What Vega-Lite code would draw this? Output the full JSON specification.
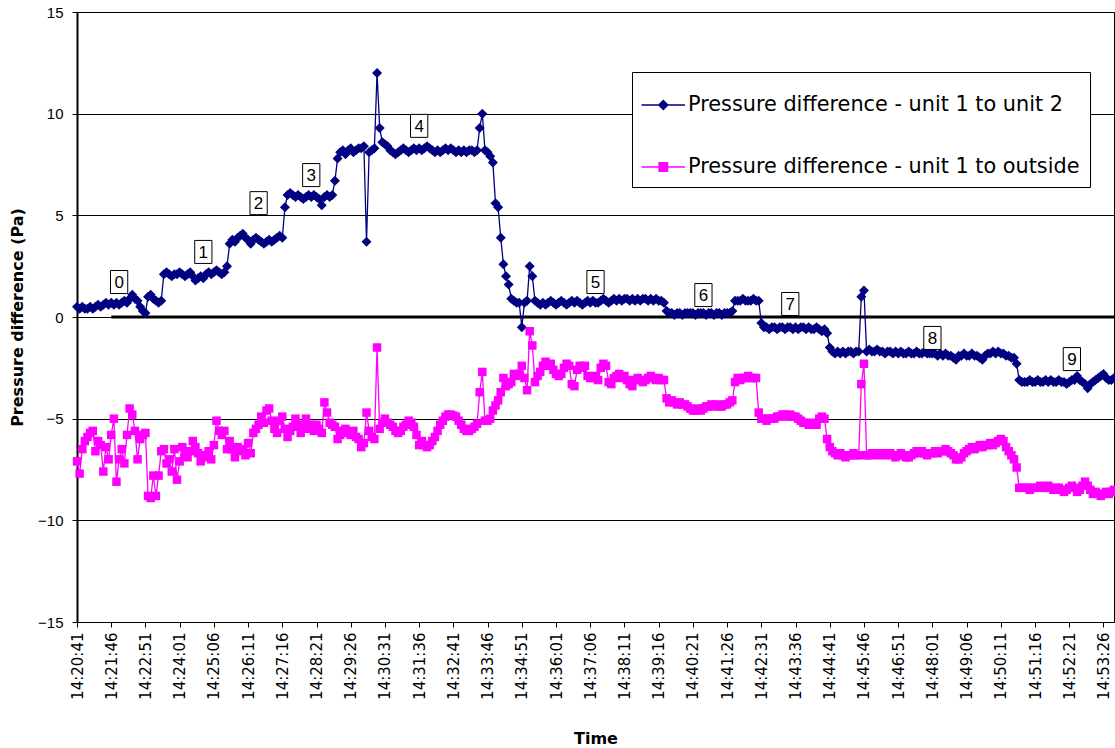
{
"$schema": "https://vega.github.io/schema/vega-lite/v6.json",
"width": 1037, "height": 610,
"autosize": {"type": "none"},
"padding": {"left": 77, "top": 12, "right": 1, "bottom": 126},
"background": "white",
"config": {"view": {"stroke": "#000", "strokeWidth": 1}, "font": "Liberation Sans"},
"datasets": {
"zero": [{"t": "14:21:46", "v": 0}, {"t": "14:53:46", "v": 0}],
"ann": [
{"t":"14:22:01","v":1.72,"lab":"0"},{"t":"14:24:46","v":3.2,"lab":"1"},{"t":"14:26:31","v":5.6,"lab":"2"},{"t":"14:28:11","v":6.98,"lab":"3"},{"t":"14:31:36","v":9.4,"lab":"4"},{"t":"14:37:16","v":1.72,"lab":"5"},{"t":"14:40:41","v":1.08,"lab":"6"},{"t":"14:43:26","v":0.64,"lab":"7"},{"t":"14:48:01","v":-1.03,"lab":"8"},{"t":"14:52:26","v":-2.07,"lab":"9"}],
"main": [
{"t":"14:20:41","a":0.5,"b":-7.1},{"t":"14:20:46","a":0.4,"b":-7.7},{"t":"14:20:51","a":0.5,"b":-6.5},{"t":"14:20:56","a":0.4,"b":-6.1},{"t":"14:21:01","a":0.4,"b":-5.9},{"t":"14:21:06","a":0.5,"b":-5.7},{"t":"14:21:11","a":0.4,"b":-5.6},{"t":"14:21:16","a":0.5,"b":-6.6},{"t":"14:21:21","a":0.6,"b":-6.1},{"t":"14:21:26","a":0.5,"b":-6.3},{"t":"14:21:31","a":0.6,"b":-7.6},{"t":"14:21:36","a":0.7,"b":-6.4},{"t":"14:21:41","a":0.6,"b":-7.0},
{"t":"14:21:46","a":0.7,"b":-5.8},{"t":"14:21:51","a":0.6,"b":-5.0},{"t":"14:21:56","a":0.7,"b":-8.1},{"t":"14:22:01","a":0.6,"b":-7.0},{"t":"14:22:06","a":0.7,"b":-6.5},{"t":"14:22:11","a":0.8,"b":-7.2},{"t":"14:22:16","a":0.7,"b":-5.8},{"t":"14:22:21","a":0.9,"b":-4.5},{"t":"14:22:26","a":1.1,"b":-4.8},{"t":"14:22:31","a":0.9,"b":-5.6},{"t":"14:22:36","a":0.8,"b":-7.0},{"t":"14:22:41","a":0.5,"b":-6.0},{"t":"14:22:46","a":0.3,"b":-5.8},
{"t":"14:22:51","a":0.2,"b":-5.7},{"t":"14:22:56","a":1.0,"b":-8.8},{"t":"14:23:01","a":1.1,"b":-8.9},{"t":"14:23:06","a":0.9,"b":-7.8},{"t":"14:23:11","a":0.8,"b":-8.8},{"t":"14:23:16","a":0.7,"b":-7.8},{"t":"14:23:21","a":0.8,"b":-6.6},{"t":"14:23:26","a":2.1,"b":-6.5},{"t":"14:23:31","a":2.2,"b":-7.2},{"t":"14:23:36","a":2.1,"b":-7.0},{"t":"14:23:41","a":2.0,"b":-7.6},{"t":"14:23:46","a":2.1,"b":-6.5},{"t":"14:23:51","a":2.1,"b":-8.0},
{"t":"14:24:01","a":2.2,"b":-7.1},{"t":"14:24:06","a":2.1,"b":-6.4},{"t":"14:24:11","a":2.0,"b":-6.8},{"t":"14:24:16","a":2.1,"b":-6.9},{"t":"14:24:21","a":2.2,"b":-6.6},{"t":"14:24:26","a":2.0,"b":-6.1},{"t":"14:24:31","a":1.8,"b":-6.4},{"t":"14:24:36","a":1.9,"b":-6.7},{"t":"14:24:41","a":2.0,"b":-7.1},{"t":"14:24:46","a":1.9,"b":-6.9},{"t":"14:24:51","a":2.1,"b":-6.8},{"t":"14:24:56","a":2.2,"b":-6.6},{"t":"14:25:01","a":2.1,"b":-7.0},
{"t":"14:25:06","a":2.2,"b":-6.3},{"t":"14:25:11","a":2.3,"b":-5.1},{"t":"14:25:16","a":2.2,"b":-5.6},{"t":"14:25:21","a":2.1,"b":-5.8},{"t":"14:25:26","a":2.2,"b":-5.6},{"t":"14:25:31","a":2.5,"b":-6.5},{"t":"14:25:36","a":3.6,"b":-6.1},{"t":"14:25:41","a":3.8,"b":-6.5},{"t":"14:25:46","a":3.7,"b":-6.9},{"t":"14:25:51","a":3.9,"b":-6.4},{"t":"14:25:56","a":4.0,"b":-6.5},{"t":"14:26:01","a":4.1,"b":-6.6},{"t":"14:26:06","a":3.9,"b":-6.8},
{"t":"14:26:11","a":3.8,"b":-6.2},{"t":"14:26:16","a":3.6,"b":-6.7},{"t":"14:26:21","a":3.8,"b":-5.7},{"t":"14:26:26","a":3.9,"b":-5.5},{"t":"14:26:31","a":3.8,"b":-5.3},{"t":"14:26:36","a":3.7,"b":-4.9},{"t":"14:26:41","a":3.6,"b":-5.2},{"t":"14:26:46","a":3.7,"b":-4.6},{"t":"14:26:51","a":3.8,"b":-4.5},{"t":"14:26:56","a":3.7,"b":-5.1},{"t":"14:27:01","a":3.8,"b":-5.5},{"t":"14:27:06","a":3.9,"b":-5.7},{"t":"14:27:11","a":4.0,"b":-5.1},
{"t":"14:27:16","a":3.9,"b":-4.9},{"t":"14:27:21","a":5.4,"b":-5.5},{"t":"14:27:26","a":6.0,"b":-5.9},{"t":"14:27:31","a":6.1,"b":-5.6},{"t":"14:27:36","a":6.0,"b":-5.4},{"t":"14:27:41","a":5.9,"b":-5.0},{"t":"14:27:46","a":6.0,"b":-5.3},{"t":"14:27:51","a":5.9,"b":-5.7},{"t":"14:27:56","a":5.8,"b":-5.4},{"t":"14:28:01","a":5.9,"b":-5.0},{"t":"14:28:06","a":6.0,"b":-5.5},{"t":"14:28:11","a":5.9,"b":-5.3},{"t":"14:28:16","a":6.0,"b":-5.6},
{"t":"14:28:21","a":5.9,"b":-5.3},{"t":"14:28:26","a":5.8,"b":-5.5},{"t":"14:28:31","a":5.5,"b":-5.7},{"t":"14:28:36","a":5.9,"b":-4.2},{"t":"14:28:41","a":6.0,"b":-4.7},{"t":"14:28:46","a":5.9,"b":-5.2},{"t":"14:28:51","a":6.0,"b":-5.3},{"t":"14:28:56","a":6.7,"b":-5.4},{"t":"14:29:01","a":7.8,"b":-6.0},{"t":"14:29:06","a":8.1,"b":-5.8},{"t":"14:29:11","a":8.2,"b":-5.6},{"t":"14:29:16","a":8.0,"b":-5.5},{"t":"14:29:21","a":8.2,"b":-5.7},
{"t":"14:29:26","a":8.3,"b":-5.8},{"t":"14:29:31","a":8.1,"b":-5.6},{"t":"14:29:36","a":8.2,"b":-5.9},{"t":"14:29:41","a":8.3,"b":-6.0},{"t":"14:29:46","a":8.3,"b":-6.4},{"t":"14:29:51","a":8.4,"b":-6.2},{"t":"14:29:56","a":3.7,"b":-4.7},{"t":"14:30:01","a":8.1,"b":-5.6},{"t":"14:30:06","a":8.2,"b":-5.9},{"t":"14:30:11","a":8.3,"b":-6.0},{"t":"14:30:16","a":12.0,"b":-1.5},{"t":"14:30:21","a":9.3,"b":-5.5},{"t":"14:30:26","a":8.6,"b":-5.2},
{"t":"14:30:31","a":8.5,"b":-5.0},{"t":"14:30:36","a":8.4,"b":-5.2},{"t":"14:30:41","a":8.2,"b":-5.3},{"t":"14:30:46","a":8.1,"b":-5.4},{"t":"14:30:51","a":8.0,"b":-5.6},{"t":"14:30:56","a":8.1,"b":-5.7},{"t":"14:31:01","a":8.2,"b":-5.6},{"t":"14:31:06","a":8.3,"b":-5.4},{"t":"14:31:11","a":8.2,"b":-5.3},{"t":"14:31:16","a":8.1,"b":-5.1},{"t":"14:31:21","a":8.2,"b":-5.2},{"t":"14:31:26","a":8.3,"b":-5.4},{"t":"14:31:31","a":8.2,"b":-5.8},
{"t":"14:31:36","a":8.3,"b":-6.3},{"t":"14:31:41","a":8.2,"b":-6.1},{"t":"14:31:46","a":8.3,"b":-6.3},{"t":"14:31:51","a":8.4,"b":-6.4},{"t":"14:31:56","a":8.3,"b":-6.3},{"t":"14:32:01","a":8.2,"b":-6.1},{"t":"14:32:06","a":8.1,"b":-5.9},{"t":"14:32:11","a":8.2,"b":-5.6},{"t":"14:32:16","a":8.1,"b":-5.3},{"t":"14:32:21","a":8.2,"b":-5.1},{"t":"14:32:26","a":8.3,"b":-4.9},{"t":"14:32:31","a":8.2,"b":-4.8},{"t":"14:32:36","a":8.3,"b":-4.8},
{"t":"14:32:41","a":8.2,"b":-4.85},{"t":"14:32:46","a":8.1,"b":-4.9},{"t":"14:32:51","a":8.2,"b":-5.1},{"t":"14:32:56","a":8.1,"b":-5.3},{"t":"14:33:01","a":8.2,"b":-5.5},{"t":"14:33:06","a":8.1,"b":-5.6},{"t":"14:33:11","a":8.2,"b":-5.6},{"t":"14:33:16","a":8.2,"b":-5.5},{"t":"14:33:21","a":8.1,"b":-5.4},{"t":"14:33:26","a":8.2,"b":-5.25},{"t":"14:33:31","a":9.3,"b":-3.7},{"t":"14:33:36","a":10.0,"b":-2.7},{"t":"14:33:41","a":8.2,"b":-5.1},
{"t":"14:33:46","a":8.1,"b":-5.1},{"t":"14:33:51","a":7.9,"b":-5.0},{"t":"14:33:56","a":7.6,"b":-4.6},{"t":"14:34:01","a":5.6,"b":-4.35},{"t":"14:34:06","a":5.4,"b":-4.1},{"t":"14:34:11","a":3.9,"b":-3.7},{"t":"14:34:16","a":2.6,"b":-3.0},{"t":"14:34:21","a":2.0,"b":-3.4},{"t":"14:34:26","a":1.6,"b":-3.3},{"t":"14:34:31","a":0.9,"b":-3.2},{"t":"14:34:36","a":0.8,"b":-2.8},{"t":"14:34:41","a":0.7,"b":-2.9},{"t":"14:34:46","a":0.7,"b":-2.8},
{"t":"14:34:51","a":-0.5,"b":-2.4},{"t":"14:34:56","a":0.7,"b":-3.0},{"t":"14:35:01","a":0.8,"b":-3.6},{"t":"14:35:06","a":2.5,"b":-0.7},{"t":"14:35:11","a":2.0,"b":-1.4},{"t":"14:35:16","a":0.8,"b":-3.2},{"t":"14:35:21","a":0.7,"b":-2.9},{"t":"14:35:26","a":0.6,"b":-2.7},{"t":"14:35:31","a":0.7,"b":-2.4},{"t":"14:35:36","a":0.6,"b":-2.2},{"t":"14:35:41","a":0.7,"b":-2.4},{"t":"14:35:46","a":0.8,"b":-2.3},{"t":"14:35:51","a":0.7,"b":-2.6},
{"t":"14:36:01","a":0.6,"b":-2.8},{"t":"14:36:06","a":0.7,"b":-2.9},{"t":"14:36:11","a":0.8,"b":-2.8},{"t":"14:36:16","a":0.7,"b":-2.5},{"t":"14:36:21","a":0.6,"b":-2.3},{"t":"14:36:26","a":0.7,"b":-2.4},{"t":"14:36:31","a":0.8,"b":-3.3},{"t":"14:36:36","a":0.7,"b":-3.4},{"t":"14:36:41","a":0.8,"b":-2.6},{"t":"14:36:46","a":0.7,"b":-2.4},{"t":"14:36:51","a":0.6,"b":-2.5},{"t":"14:36:56","a":0.7,"b":-2.4},{"t":"14:37:01","a":0.8,"b":-2.9},
{"t":"14:37:06","a":0.7,"b":-3.0},{"t":"14:37:11","a":0.8,"b":-3.0},{"t":"14:37:16","a":0.7,"b":-2.9},{"t":"14:37:21","a":0.7,"b":-3.1},{"t":"14:37:26","a":0.8,"b":-2.5},{"t":"14:37:31","a":0.9,"b":-2.3},{"t":"14:37:36","a":0.8,"b":-2.4},{"t":"14:37:41","a":0.7,"b":-3.2},{"t":"14:37:46","a":0.8,"b":-3.3},{"t":"14:37:51","a":0.9,"b":-3.0},{"t":"14:37:56","a":0.8,"b":-2.9},{"t":"14:38:01","a":0.9,"b":-2.8},{"t":"14:38:06","a":0.8,"b":-3.0},
{"t":"14:38:11","a":0.9,"b":-2.9},{"t":"14:38:16","a":0.9,"b":-3.1},{"t":"14:38:21","a":0.8,"b":-3.3},{"t":"14:38:26","a":0.9,"b":-3.4},{"t":"14:38:31","a":0.8,"b":-3.1},{"t":"14:38:36","a":0.9,"b":-3.0},{"t":"14:38:41","a":0.8,"b":-3.1},{"t":"14:38:46","a":0.9,"b":-3.2},{"t":"14:38:51","a":0.9,"b":-3.1},{"t":"14:38:56","a":0.8,"b":-3.0},{"t":"14:39:01","a":0.9,"b":-2.9},{"t":"14:39:06","a":0.8,"b":-3.0},{"t":"14:39:11","a":0.9,"b":-3.1},
{"t":"14:39:16","a":0.8,"b":-3.0},{"t":"14:39:21","a":0.8,"b":-3.1},{"t":"14:39:26","a":0.7,"b":-3.1},{"t":"14:39:31","a":0.3,"b":-4.0},{"t":"14:39:36","a":0.2,"b":-4.2},{"t":"14:39:41","a":0.2,"b":-4.1},{"t":"14:39:46","a":0.1,"b":-4.2},{"t":"14:39:51","a":0.2,"b":-4.3},{"t":"14:39:56","a":0.2,"b":-4.2},{"t":"14:40:01","a":0.1,"b":-4.3},{"t":"14:40:06","a":0.2,"b":-4.3},{"t":"14:40:11","a":0.2,"b":-4.4},{"t":"14:40:16","a":0.2,"b":-4.5},
{"t":"14:40:21","a":0.2,"b":-4.6},{"t":"14:40:26","a":0.1,"b":-4.6},{"t":"14:40:31","a":0.2,"b":-4.5},{"t":"14:40:36","a":0.2,"b":-4.6},{"t":"14:40:41","a":0.2,"b":-4.5},{"t":"14:40:46","a":0.1,"b":-4.4},{"t":"14:40:51","a":0.2,"b":-4.4},{"t":"14:40:56","a":0.2,"b":-4.3},{"t":"14:41:01","a":0.1,"b":-4.4},{"t":"14:41:06","a":0.2,"b":-4.3},{"t":"14:41:11","a":0.2,"b":-4.4},{"t":"14:41:16","a":0.1,"b":-4.4},{"t":"14:41:21","a":0.2,"b":-4.3},
{"t":"14:41:26","a":0.2,"b":-4.3},{"t":"14:41:31","a":0.2,"b":-4.2},{"t":"14:41:36","a":0.3,"b":-4.1},{"t":"14:41:41","a":0.8,"b":-3.2},{"t":"14:41:46","a":0.8,"b":-3.0},{"t":"14:41:51","a":0.8,"b":-3.1},{"t":"14:41:56","a":0.9,"b":-3.0},{"t":"14:42:01","a":0.8,"b":-3.0},{"t":"14:42:06","a":0.8,"b":-2.9},{"t":"14:42:11","a":0.8,"b":-3.0},{"t":"14:42:16","a":0.9,"b":-3.0},{"t":"14:42:21","a":0.8,"b":-3.0},{"t":"14:42:26","a":0.8,"b":-4.7},
{"t":"14:42:31","a":-0.3,"b":-5.0},{"t":"14:42:36","a":-0.5,"b":-5.0},{"t":"14:42:41","a":-0.5,"b":-5.1},{"t":"14:42:46","a":-0.6,"b":-5.0},{"t":"14:42:51","a":-0.5,"b":-5.0},{"t":"14:42:56","a":-0.5,"b":-5.0},{"t":"14:43:01","a":-0.6,"b":-4.9},{"t":"14:43:06","a":-0.5,"b":-4.9},{"t":"14:43:11","a":-0.5,"b":-4.8},{"t":"14:43:16","a":-0.6,"b":-4.8},{"t":"14:43:21","a":-0.5,"b":-4.9},{"t":"14:43:26","a":-0.5,"b":-4.8},{"t":"14:43:31","a":-0.6,"b":-4.9},
{"t":"14:43:36","a":-0.5,"b":-4.9},{"t":"14:43:41","a":-0.6,"b":-5.0},{"t":"14:43:46","a":-0.5,"b":-5.1},{"t":"14:43:51","a":-0.5,"b":-5.2},{"t":"14:43:56","a":-0.6,"b":-5.2},{"t":"14:44:01","a":-0.5,"b":-5.3},{"t":"14:44:06","a":-0.6,"b":-5.3},{"t":"14:44:11","a":-0.6,"b":-5.2},{"t":"14:44:16","a":-0.5,"b":-5.3},{"t":"14:44:21","a":-0.6,"b":-5.0},{"t":"14:44:26","a":-0.7,"b":-4.9},{"t":"14:44:31","a":-0.6,"b":-5.0},{"t":"14:44:36","a":-0.8,"b":-6.0},
{"t":"14:44:41","a":-1.5,"b":-6.4},{"t":"14:44:46","a":-1.7,"b":-6.6},{"t":"14:44:51","a":-1.8,"b":-6.7},{"t":"14:44:56","a":-1.7,"b":-6.8},{"t":"14:45:01","a":-1.8,"b":-6.7},{"t":"14:45:06","a":-1.7,"b":-6.8},{"t":"14:45:11","a":-1.8,"b":-6.9},{"t":"14:45:16","a":-1.7,"b":-6.8},{"t":"14:45:21","a":-1.7,"b":-6.8},{"t":"14:45:26","a":-1.8,"b":-6.7},{"t":"14:45:31","a":-1.7,"b":-6.8},{"t":"14:45:36","a":-1.7,"b":-6.8},{"t":"14:45:41","a":1.0,"b":-3.3},
{"t":"14:45:46","a":1.3,"b":-2.3},{"t":"14:45:51","a":-1.7,"b":-6.8},{"t":"14:45:56","a":-1.6,"b":-6.8},{"t":"14:46:01","a":-1.7,"b":-6.7},{"t":"14:46:06","a":-1.7,"b":-6.7},{"t":"14:46:11","a":-1.6,"b":-6.8},{"t":"14:46:16","a":-1.7,"b":-6.7},{"t":"14:46:21","a":-1.7,"b":-6.7},{"t":"14:46:26","a":-1.8,"b":-6.8},{"t":"14:46:31","a":-1.7,"b":-6.7},{"t":"14:46:36","a":-1.7,"b":-6.7},{"t":"14:46:41","a":-1.8,"b":-6.8},{"t":"14:46:46","a":-1.7,"b":-6.9},
{"t":"14:46:51","a":-1.8,"b":-6.8},{"t":"14:46:56","a":-1.7,"b":-6.7},{"t":"14:47:01","a":-1.8,"b":-6.8},{"t":"14:47:06","a":-1.8,"b":-6.9},{"t":"14:47:11","a":-1.7,"b":-6.9},{"t":"14:47:16","a":-1.8,"b":-6.8},{"t":"14:47:21","a":-1.8,"b":-6.7},{"t":"14:47:26","a":-1.7,"b":-6.6},{"t":"14:47:31","a":-1.8,"b":-6.7},{"t":"14:47:36","a":-1.8,"b":-6.6},{"t":"14:47:41","a":-1.7,"b":-6.7},{"t":"14:47:46","a":-1.8,"b":-6.8},{"t":"14:47:51","a":-1.8,"b":-6.7},
{"t":"14:48:01","a":-1.8,"b":-6.7},{"t":"14:48:06","a":-1.8,"b":-6.6},{"t":"14:48:11","a":-1.9,"b":-6.7},{"t":"14:48:16","a":-1.8,"b":-6.6},{"t":"14:48:21","a":-1.9,"b":-6.6},{"t":"14:48:26","a":-1.8,"b":-6.5},{"t":"14:48:31","a":-1.9,"b":-6.6},{"t":"14:48:36","a":-1.9,"b":-6.7},{"t":"14:48:41","a":-2.0,"b":-6.8},{"t":"14:48:46","a":-2.1,"b":-7.0},{"t":"14:48:51","a":-1.9,"b":-7.0},{"t":"14:48:56","a":-1.9,"b":-6.9},{"t":"14:49:01","a":-1.8,"b":-6.7},
{"t":"14:49:06","a":-1.9,"b":-6.6},{"t":"14:49:11","a":-1.9,"b":-6.5},{"t":"14:49:16","a":-1.8,"b":-6.4},{"t":"14:49:21","a":-1.9,"b":-6.5},{"t":"14:49:26","a":-1.9,"b":-6.4},{"t":"14:49:31","a":-2.0,"b":-6.3},{"t":"14:49:36","a":-2.1,"b":-6.4},{"t":"14:49:41","a":-1.9,"b":-6.3},{"t":"14:49:46","a":-1.8,"b":-6.3},{"t":"14:49:51","a":-1.8,"b":-6.2},{"t":"14:49:56","a":-1.7,"b":-6.3},{"t":"14:50:01","a":-1.8,"b":-6.2},{"t":"14:50:06","a":-1.7,"b":-6.1},
{"t":"14:50:11","a":-1.8,"b":-6.0},{"t":"14:50:16","a":-1.8,"b":-6.1},{"t":"14:50:21","a":-1.9,"b":-6.4},{"t":"14:50:26","a":-1.9,"b":-6.6},{"t":"14:50:31","a":-2.0,"b":-6.8},{"t":"14:50:36","a":-2.0,"b":-7.0},{"t":"14:50:41","a":-2.3,"b":-7.4},{"t":"14:50:46","a":-3.1,"b":-8.4},{"t":"14:50:51","a":-3.2,"b":-8.4},{"t":"14:50:56","a":-3.2,"b":-8.4},{"t":"14:51:01","a":-3.2,"b":-8.4},{"t":"14:51:06","a":-3.1,"b":-8.5},{"t":"14:51:11","a":-3.2,"b":-8.4},
{"t":"14:51:16","a":-3.2,"b":-8.4},{"t":"14:51:21","a":-3.1,"b":-8.4},{"t":"14:51:26","a":-3.2,"b":-8.3},{"t":"14:51:31","a":-3.2,"b":-8.4},{"t":"14:51:36","a":-3.1,"b":-8.4},{"t":"14:51:41","a":-3.2,"b":-8.3},{"t":"14:51:46","a":-3.1,"b":-8.4},{"t":"14:51:51","a":-3.2,"b":-8.5},{"t":"14:51:56","a":-3.2,"b":-8.4},{"t":"14:52:01","a":-3.1,"b":-8.4},{"t":"14:52:06","a":-3.2,"b":-8.5},{"t":"14:52:11","a":-3.2,"b":-8.6},{"t":"14:52:16","a":-3.3,"b":-8.5},
{"t":"14:52:21","a":-3.2,"b":-8.4},{"t":"14:52:26","a":-3.1,"b":-8.3},{"t":"14:52:31","a":-3.1,"b":-8.4},{"t":"14:52:36","a":-2.9,"b":-8.6},{"t":"14:52:41","a":-3.1,"b":-8.5},{"t":"14:52:46","a":-3.2,"b":-8.3},{"t":"14:52:51","a":-3.3,"b":-8.1},{"t":"14:52:56","a":-3.5,"b":-8.3},{"t":"14:53:01","a":-3.3,"b":-8.5},{"t":"14:53:06","a":-3.2,"b":-8.7},{"t":"14:53:11","a":-3.1,"b":-8.6},{"t":"14:53:16","a":-3.0,"b":-8.7},{"t":"14:53:21","a":-2.9,"b":-8.8},
{"t":"14:53:26","a":-2.8,"b":-8.7},{"t":"14:53:31","a":-3.0,"b":-8.6},{"t":"14:53:36","a":-3.1,"b":-8.7},{"t":"14:53:41","a":-3.1,"b":-8.6},{"t":"14:53:46","a":-3.0,"b":-8.5}
]
},
"encoding": {
"x": {"field": "t", "type": "ordinal", "scale": {"type": "point", "padding": 0},
  "axis": {"values": ["14:20:41","14:21:46","14:22:51","14:24:01","14:25:06","14:26:11","14:27:16","14:28:21","14:29:26","14:30:31","14:31:36","14:32:41","14:33:46","14:34:51","14:36:01","14:37:06","14:38:11","14:39:16","14:40:21","14:41:26","14:42:31","14:43:36","14:44:41","14:45:46","14:46:51","14:48:01","14:49:06","14:50:11","14:51:16","14:52:21","14:53:26"],
   "labelAngle": -90, "labelFont": "DejaVu Sans", "labelFontSize": 15, "labelColor": "#000", "labelOverlap": false,
   "tickColor": "#000", "tickSize": 5, "labelPadding": 5, "domainColor": "#000", "grid": false,
   "title": "Time", "titleFont": "DejaVu Sans", "titleFontSize": 16, "titleFontWeight": "bold", "titleColor": "#000", "titlePadding": 31}},
"y": {"field": "v", "type": "quantitative", "scale": {"domain": [-15, 15], "nice": false, "zero": false},
  "axis": {"values": [-15, -10, -5, 0, 5, 10, 15], "grid": true, "gridColor": "#000", "gridWidth": 1,
   "domainColor": "#000", "domainWidth": 2, "tickColor": "#000", "tickSize": 5,
   "labelFont": "Liberation Sans", "labelFontSize": 15, "labelPadding": 9, "labelColor": "#000",
   "title": "Pressure difference (Pa)", "titleFont": "DejaVu Sans", "titleFontSize": 16, "titleFontWeight": "bold", "titleColor": "#000", "titlePadding": 12}}
},
"layer": [
{"data": {"name": "zero"}, "mark": {"type": "line", "color": "#000", "strokeWidth": 3}, "encoding": {}},
{"data": {"name": "main"}, "transform": [{"fold": ["a", "b"], "as": ["s", "v"]}],
 "mark": {"type": "line", "strokeWidth": 1.3},
 "encoding": {"color": {"field": "s", "type": "nominal", "scale": {"domain": ["a", "b"], "range": ["#000080", "#FF00FF"]},
  "legend": {"title": " ", "titleFontSize": 1, "titlePadding": 7, "orient": "none", "legendX": 555, "legendY": 60, "direction": "vertical",
   "strokeColor": "#000", "fillColor": "#fff", "padding": 10, "symbolSize": 784, "symbolStrokeWidth": 1.5,
   "labelFont": "DejaVu Sans", "labelFontSize": 20.8, "labelColor": "#000", "labelLimit": 0, "labelOffset": 16, "rowPadding": 37,
   "labelExpr": "datum.value == 'a' ? 'Pressure difference - unit 1 to unit 2' : 'Pressure difference - unit 1 to outside'",
   "encode": {"symbols": {"update": {
     "shape": {"signal": "datum.value == 'a' ? 'M-1.1,0L2.0,0M0.45,-0.32L0.77,0L0.45,0.32L0.13,0Z' : 'M-1.1,0L2.0,0M0.15,-0.3L0.75,-0.3L0.75,0.3L0.15,0.3Z'"},
     "fill": {"signal": "datum.value == 'a' ? '#000080' : '#FF00FF'"},
     "stroke": {"signal": "datum.value == 'a' ? '#000080' : '#FF00FF'"},
     "strokeWidth": {"value": 1.5}, "opacity": {"value": 1}, "fillOpacity": {"value": 1}, "strokeOpacity": {"value": 1}}}}}}}},
{"data": {"name": "main"}, "transform": [{"fold": ["a"], "as": ["s", "v"]}],
 "mark": {"type": "point", "filled": true, "opacity": 1, "size": 100, "shape": "diamond", "color": "#000080"}, "encoding": {}},
{"data": {"name": "main"}, "transform": [{"fold": ["b"], "as": ["s", "v"]}],
 "mark": {"type": "point", "filled": true, "opacity": 1, "size": 72, "shape": "square", "color": "#FF00FF"}, "encoding": {}},
{"data": {"name": "ann"}, "mark": {"type": "point", "shape": "M-0.75,-1L0.75,-1L0.75,1L-0.75,1Z", "size": 529, "filled": true, "fill": "#fff", "stroke": "#000", "strokeWidth": 1, "opacity": 1}, "encoding": {}},
{"data": {"name": "ann"}, "mark": {"type": "text", "font": "Liberation Sans", "fontSize": 17, "baseline": "middle", "align": "center", "dy": 1, "color": "#000"},
 "encoding": {"text": {"field": "lab"}}}
]
}
